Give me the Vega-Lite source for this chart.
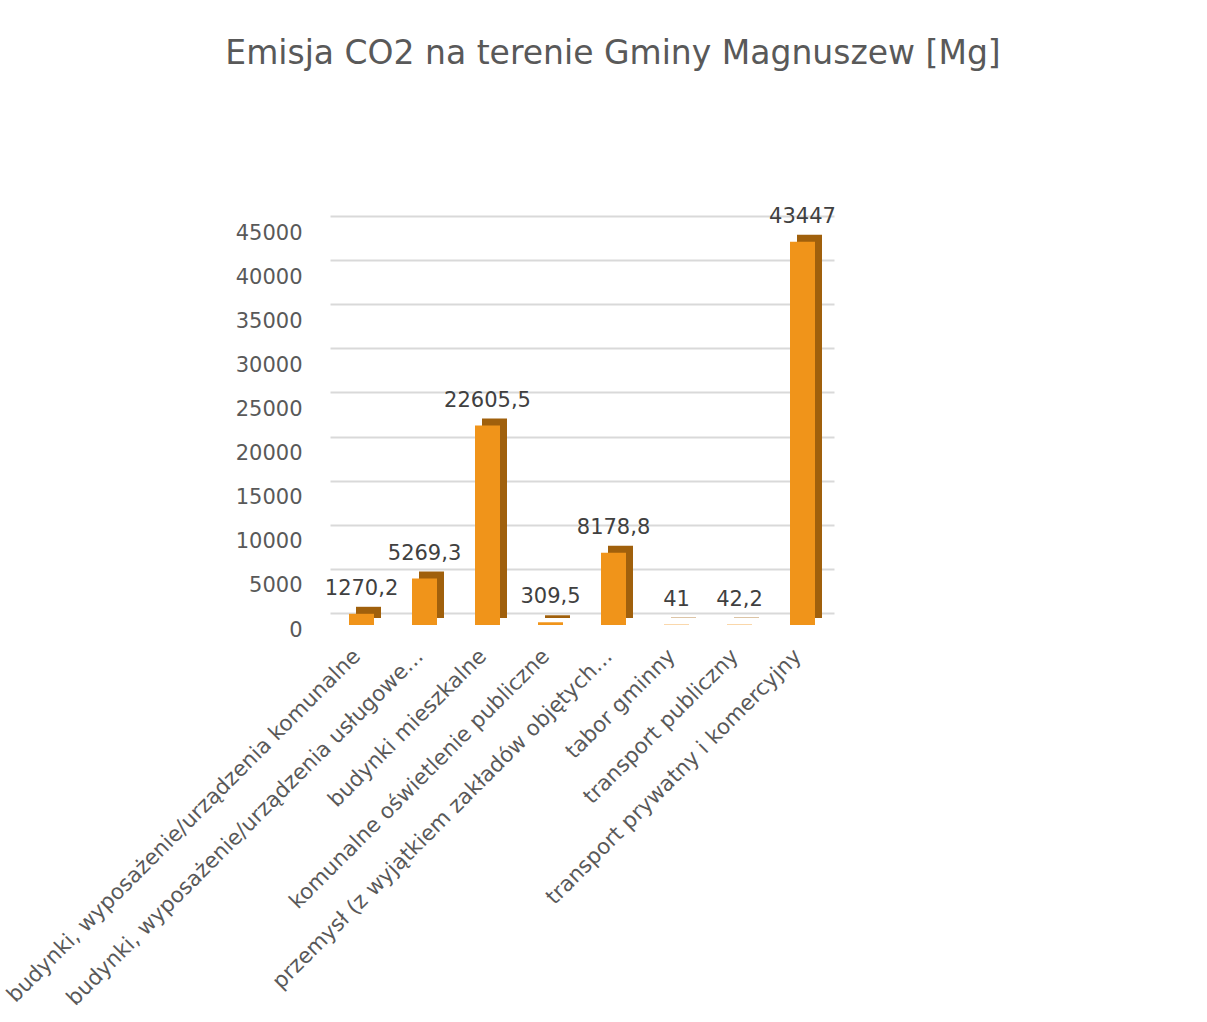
{
  "$schema": "https://vega.github.io/schema/vega-lite/v6.json",
  "autosize": {"type": "none"},
  "width": 520,
  "height": 397,
  "padding": {"left": 330, "top": 228, "right": 357, "bottom": 397},
  "background": "white",
  "title": {
    "text": "Emisja CO2 na terenie Gminy Magnuszew [Mg]",
    "fontSize": 33,
    "font": "DejaVu Sans",
    "fontWeight": "normal",
    "color": "#595959",
    "anchor": "middle",
    "dx": 23,
    "offset": 135
  },
  "config": {
    "view": {"stroke": null},
    "locale": {"number": {"decimal": ",", "thousands": " ", "grouping": [3], "currency": ["", ""]}},
    "font": "DejaVu Sans"
  },
  "data": {
    "values": [
      {"kategoria": "budynki, wyposażenie/urządzenia komunalne", "emisja": 1270.2},
      {"kategoria": "budynki, wyposażenie/urządzenia usługowe…", "emisja": 5269.3},
      {"kategoria": "budynki mieszkalne", "emisja": 22605.5},
      {"kategoria": "komunalne oświetlenie publiczne", "emisja": 309.5},
      {"kategoria": "przemysł (z wyjątkiem zakładów objętych…", "emisja": 8178.8},
      {"kategoria": "tabor gminny", "emisja": 41},
      {"kategoria": "transport publiczny", "emisja": 42.2},
      {"kategoria": "transport prywatny i komercyjny", "emisja": 43447}
    ]
  },
  "encoding": {
    "x": {
      "field": "kategoria",
      "type": "nominal",
      "sort": null,
      "title": null,
      "scale": {"range": [0, 504]},
      "axis": {
        "labelAngle": -45,
        "labelFontSize": 21.5,
        "labelColor": "#595959",
        "labelLimit": 0,
        "labelPadding": 20,
        "labelOffset": -12,
        "ticks": false,
        "domain": false,
        "labelFont": "DejaVu Sans"
      }
    },
    "y": {
      "field": "emisja",
      "type": "quantitative",
      "title": null,
      "scale": {"domain": [0, 45000], "nice": false},
      "axis": {
        "values": [0, 5000, 10000, 15000, 20000, 25000, 30000, 35000, 40000, 45000],
        "format": "d",
        "labelFontSize": 21,
        "labelColor": "#595959",
        "labelPadding": 28,
        "tickOffset": -12,
        "labelOffset": 17,
        "ticks": false,
        "domain": false,
        "gridColor": "#D9D9D9",
        "gridWidth": 2,
        "labelFont": "DejaVu Sans"
      }
    }
  },
  "layer": [
    {
      "mark": {"type": "bar", "size": 25, "color": "#A0600C", "xOffset": 7, "yOffset": -7}
    },
    {
      "mark": {"type": "bar", "size": 25, "color": "#F0941A"}
    },
    {
      "mark": {"type": "text", "fontSize": 21, "color": "#404040", "baseline": "bottom", "dy": -15, "font": "DejaVu Sans"},
      "encoding": {
        "text": {"field": "emisja", "type": "quantitative", "format": "~f"}
      }
    }
  ]
}
